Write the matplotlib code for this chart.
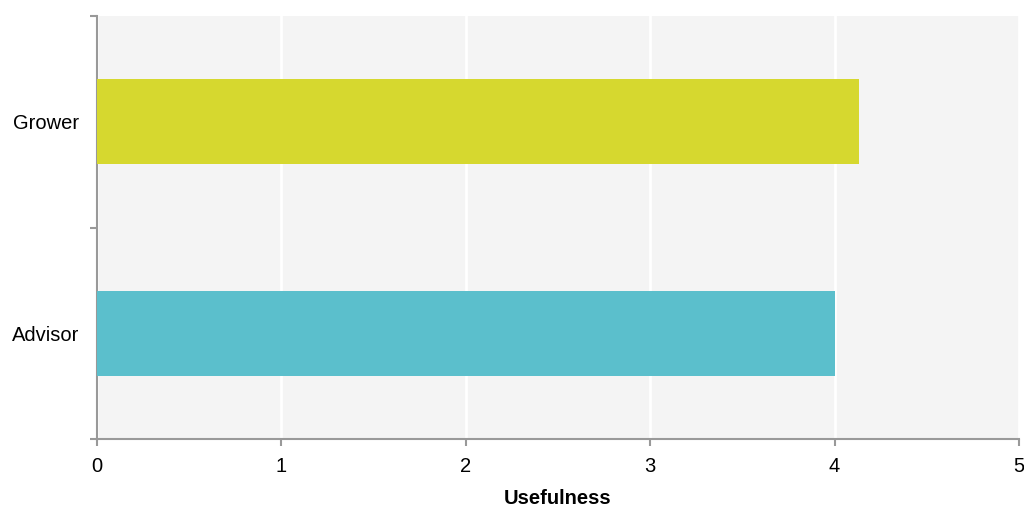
import matplotlib
matplotlib.use("Agg")
import matplotlib.pyplot as plt
import numpy as np

categories = ["Advisor", "Grower"]
usefulness = [4.0, 4.13]
bar_colors = ["#5bbfcc", "#d6d82f"]

plt.rcParams['font.family'] = ['Liberation Sans', 'DejaVu Sans']

fig = plt.figure(figsize=(10.24, 5.07), dpi=100)
ax = fig.add_axes([97 / 1024, 1 - 439 / 507, (1019 - 97) / 1024, (439 - 16) / 507])
ax.set_facecolor("#f4f4f4")

y = np.arange(len(categories))
ax.barh(y, usefulness, height=0.4, color=bar_colors, zorder=3)

ax.set_xlim(0, 5)
ax.set_ylim(-0.5, len(categories) - 0.5)
ax.set_xticks(range(6))
ax.grid(axis="x", color="white", linewidth=2, zorder=1)
ax.set_axisbelow(True)

# category labels on minor ticks, boundary ticks on major
ax.set_yticks(np.arange(-0.5, len(categories), 1.0))
ax.set_yticklabels([])
ax.set_yticks(y, minor=True)
ax.set_yticklabels(categories, minor=True)
ax.tick_params(axis="y", which="minor", length=0, pad=13, labelsize=14.5)
ax.tick_params(axis="y", which="major", length=5, color="#999999", width=1.5)
ax.tick_params(axis="x", length=5, color="#999999", width=1.5, pad=8, labelsize=14.5)

for side in ["top", "right"]:
    ax.spines[side].set_visible(False)
for side in ["left", "bottom"]:
    ax.spines[side].set_color("#999999")
    ax.spines[side].set_linewidth(1.5)

ax.set_xlabel("Usefulness", fontsize=14.5, fontweight="bold", labelpad=9)

fig.savefig("out.png", dpi=100)
